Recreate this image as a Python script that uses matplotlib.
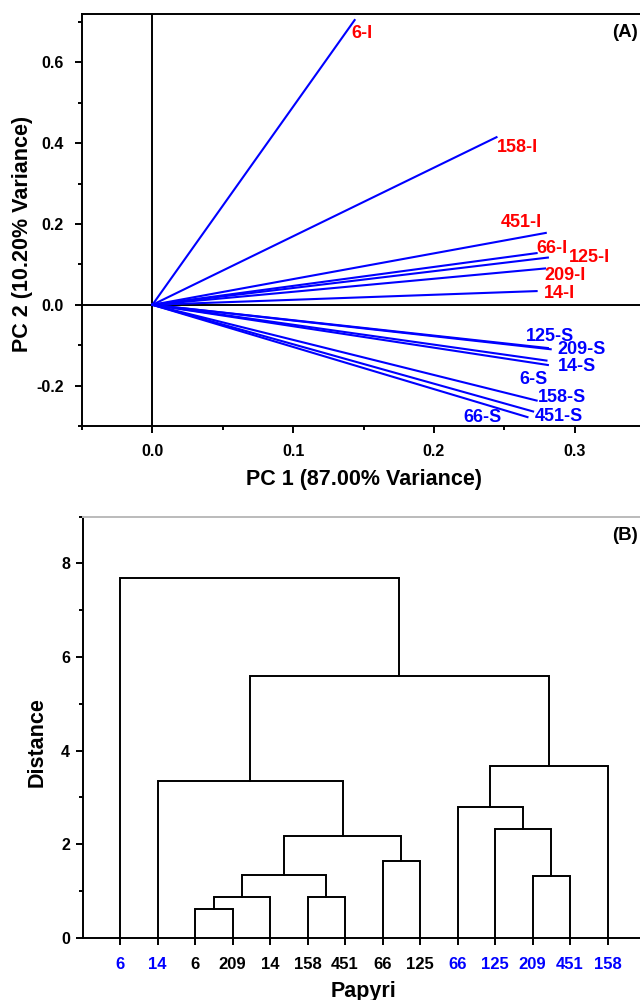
import matplotlib
matplotlib.use("Agg")
import matplotlib.pyplot as plt
from matplotlib.ticker import MultipleLocator

plt.rcParams['font.family'] = ['Liberation Sans', 'DejaVu Sans']
plt.rcParams['font.weight'] = 'bold'

# --- PCA loadings (panel A) ---
load_names = ["6-I", "158-I", "451-I", "66-I", "125-I", "209-I", "14-I",
              "125-S", "209-S", "14-S", "6-S", "158-S", "451-S", "66-S"]
pc1 = [0.1437, 0.2445, 0.2795, 0.2730, 0.2810, 0.2790, 0.2730,
       0.2810, 0.2830, 0.2810, 0.2800, 0.2730, 0.2705, 0.2665]
pc2 = [0.705, 0.415, 0.178, 0.128, 0.117, 0.090, 0.034,
       -0.107, -0.110, -0.149, -0.138, -0.237, -0.264, -0.278]

# label offsets from vector tips, in pixels
lab_off = [(-3, -13), (0, -10), (-45, 10), (0, 5), (21, 0), (-1, -7), (7, -2),
           (-22, 12), (7, 0), (10, -1), (-27, -19), (1, 3), (2, -5), (-64, 0)]

# --- dendrogram (panel B) ---
leaves = ['6', '14', '6', '209', '14', '158', '451', '66', '125',
          '66', '125', '209', '451', '158']
leaf_colors = ['#0000ff'] * 2 + ['black'] * 7 + ['#0000ff'] * 5
# (child a, child b, height); new clusters get ids 14, 15, ...
merges = [(2, 3, 0.61), (14, 4, 0.88), (5, 6, 0.88), (15, 16, 1.34),
          (7, 8, 1.63), (17, 18, 2.18), (1, 19, 3.36), (11, 12, 1.31),
          (10, 21, 2.33), (9, 22, 2.79), (23, 13, 3.68), (20, 24, 5.60),
          (0, 25, 7.70)]

lw = 1.4
fig = plt.figure(figsize=(6.4, 10), dpi=100)

# ---------- panel A ----------
ax1 = fig.add_axes([82 / 640, 1 - 426 / 1000, 563 / 640, 412 / 1000])
ax1.axhline(0, color='black', lw=lw, zorder=1)
ax1.axvline(0, color='black', lw=lw, zorder=1)
for i, name in enumerate(load_names):
    col = 'red' if name.endswith('I') else '#0000ff'
    ax1.plot([0, pc1[i]], [0, pc2[i]], color='#0000ff', lw=1.5, zorder=2)
    ax1.annotate(name, (pc1[i], pc2[i]), xytext=lab_off[i],
                 textcoords='offset pixels', ha='left', va='center',
                 color=col, fontsize=13, fontweight='bold')
ax1.set_xlim(-0.05, 0.35)
ax1.set_ylim(-0.3, 0.72)
ax1.xaxis.set_minor_locator(MultipleLocator(0.05))
ax1.yaxis.set_minor_locator(MultipleLocator(0.1))
ax1.set_xticks([0.0, 0.1, 0.2, 0.3])
ax1.set_xticklabels(['0.0', '0.1', '0.2', '0.3'])
ax1.set_yticks([-0.2, 0.0, 0.2, 0.4, 0.6])
ax1.set_yticklabels(['-0.2', '0.0', '0.2', '0.4', '0.6'])
ax1.set_xlabel('PC 1 (87.00% Variance)', fontsize=15.5, fontweight='bold')
ax1.set_ylabel('PC 2 (10.20% Variance)', fontsize=15.5, fontweight='bold')
ax1.xaxis.set_label_coords(0.5, -0.105)
ax1.yaxis.set_label_coords(-0.087, 0.466)
ax1.text(0.941, 0.956, '(A)', transform=ax1.transAxes, ha='left',
         va='center', fontsize=13.5, fontweight='bold')

# ---------- panel B ----------
ax2 = fig.add_axes([82.5 / 640, 1 - 937.7 / 1000, 562.5 / 640, 421 / 1000])
xpos = {i: i + 1 for i in range(len(leaves))}
hts = {i: 0.0 for i in range(len(leaves))}
for k, (a, b, h) in enumerate(merges):
    xa, xb = xpos[a], xpos[b]
    ax2.plot([xa, xa, xb, xb], [hts[a], h, h, hts[b]], color='black',
             lw=lw, solid_joinstyle='miter')
    nid = len(leaves) + k
    xpos[nid] = (xa + xb) / 2
    hts[nid] = h
ax2.set_xlim(0, 15)
ax2.set_ylim(0, 9)
ax2.set_xticks(range(1, len(leaves) + 1))
ax2.set_xticklabels(leaves)
for t, c in zip(ax2.get_xticklabels(), leaf_colors):
    t.set_color(c)
ax2.yaxis.set_major_locator(MultipleLocator(2))
ax2.yaxis.set_minor_locator(MultipleLocator(1))
ax2.set_xlabel('Papyri', fontsize=15.5, fontweight='bold')
ax2.set_ylabel('Distance', fontsize=15.5, fontweight='bold')
ax2.xaxis.set_label_coords(0.5, -0.103)
ax2.yaxis.set_label_coords(-0.062, 0.465)
ax2.text(0.941, 0.955, '(B)', transform=ax2.transAxes, ha='left',
         va='center', fontsize=13.5, fontweight='bold')
ax2.spines['top'].set_color('#bbbbbb')

for ax in (ax1, ax2):
    for s in ax.spines.values():
        s.set_linewidth(lw)
    ax.tick_params(which='major', direction='out', length=5, width=lw,
                   labelsize=11.5)
    ax.tick_params(which='minor', direction='out', length=3, width=lw)
    ax.tick_params(top=False, right=False, which='both')
    for t in ax.get_xticklabels() + ax.get_yticklabels():
        t.set_fontweight('bold')
ax1.tick_params(axis='both', which='major', pad=8)
ax2.tick_params(axis='y', which='major', pad=4)
ax2.tick_params(axis='x', which='major', pad=9, labelsize=12)
ax2.tick_params(axis='x', which='minor', bottom=False)

fig.savefig('out.png', dpi=100)
